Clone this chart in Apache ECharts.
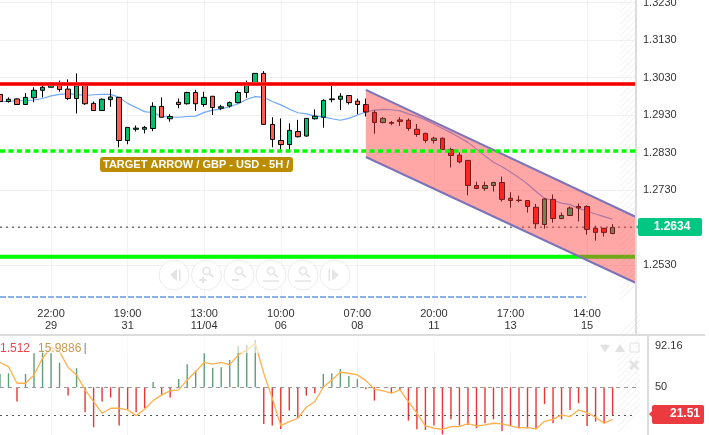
<!DOCTYPE html>
<html>
<head>
<meta charset="utf-8">
<style>html,body{margin:0;padding:0;background:#fff}#chart{width:709px;height:435px}</style>
<script src="https://cdn.jsdelivr.net/npm/echarts@6/dist/echarts.min.js"></script>
</head>
<body>
<div id="chart"></div>
<script>
// open, close, low, high
var candleData = [
  [1.2985,1.2966,1.2961,1.2989],[1.2966,1.2972,1.2963,1.2977],[1.2973,1.2958,1.2957,1.2974],[1.2958,1.2977,1.2957,1.2988],
  [1.2976,1.2996,1.2964,1.3004],[1.2996,1.3004,1.2977,1.3013],[1.3004,1.3010,1.3004,1.3016],[1.3016,1.2998,1.2992,1.3022],
  [1.2999,1.2974,1.2970,1.3025],[1.2974,1.3008,1.2934,1.3041],[1.3009,1.2960,1.2957,1.3016],[1.2961,1.2942,1.2941,1.2966],
  [1.2942,1.2972,1.2941,1.2974],[1.2971,1.2978,1.2952,1.2999],[1.2977,1.2862,1.2844,1.2977],[1.2862,1.2897,1.2852,1.2897],
  [1.2892,1.2895,1.2886,1.2902],[1.2892,1.2897,1.2881,1.2901],[1.2894,1.2953,1.2887,1.2964],[1.2953,1.2924,1.2924,1.2977],
  [1.2920,1.2926,1.2912,1.2932],[1.2964,1.2958,1.2948,1.2974],[1.2960,1.2990,1.2958,1.2992],[1.2990,1.2960,1.2941,1.2997],
  [1.2958,1.2977,1.2952,1.2992],[1.2980,1.2950,1.2930,1.2980],[1.2948,1.2952,1.2943,1.2957],[1.2954,1.2963,1.2950,1.2966],
  [1.2963,1.2990,1.2961,1.2995],[1.2990,1.3010,1.2976,1.3022],[1.3014,1.3041,1.3014,1.3041],[1.3041,1.2905,1.2905,1.3047],
  [1.2905,1.2865,1.2844,1.2924],[1.2862,1.2851,1.2838,1.2921],[1.2851,1.2889,1.2832,1.2908],[1.2886,1.2872,1.2870,1.2917],
  [1.2874,1.2921,1.2872,1.2921],[1.2920,1.2927,1.2918,1.2945],[1.2924,1.2969,1.2896,1.2972],[1.2971,1.2973,1.2964,1.3007],
  [1.2972,1.2980,1.2943,1.2988],[1.2982,1.2963,1.2958,1.2982],[1.2967,1.2958,1.2932,1.2974],[1.2958,1.2938,1.2926,1.2974],
  [1.2937,1.2910,1.2880,1.2943],[1.2910,1.2921,1.2908,1.2924],[1.2910,1.2908,1.2903,1.2914],[1.2917,1.2913,1.2901,1.2924],
  [1.2916,1.2894,1.2888,1.2921],[1.2892,1.2878,1.2872,1.2906],[1.2881,1.2862,1.2856,1.2883],[1.2862,1.2868,1.2854,1.2872],
  [1.2868,1.2838,1.2837,1.2870],[1.2838,1.2822,1.2790,1.2843],[1.2823,1.2805,1.2801,1.2830],[1.2809,1.2742,1.2716,1.2809],
  [1.2742,1.2734,1.2734,1.2752],[1.2734,1.2742,1.2728,1.2752],[1.2742,1.2750,1.2726,1.2752],[1.2750,1.2705,1.2699,1.2766],
  [1.2708,1.2702,1.2683,1.2724],[1.2703,1.2702,1.2697,1.2715],[1.2702,1.2686,1.2670,1.2702],[1.2684,1.2640,1.2627,1.2693],
  [1.2638,1.2706,1.2627,1.2708],[1.2705,1.2654,1.2643,1.2718],[1.2654,1.2662,1.2652,1.2670],[1.2662,1.2682,1.2661,1.2686],
  [1.2686,1.2682,1.2646,1.2694],[1.2686,1.2625,1.2611,1.2689],[1.2628,1.2617,1.2595,1.2635],[1.2628,1.2617,1.2606,1.2628],
  [1.2614,1.2630,1.2612,1.2639]
];
var maValues = [
  1.2966,1.2966,1.2968,1.2968,1.2970,1.2974,1.2981,1.2985,1.2987,1.2985,1.2982,1.2984,1.2985,1.2985,1.2977,1.2961,
  1.2950,1.2939,1.2936,1.2927,1.2924,1.2924,1.2926,1.2927,1.2937,1.2943,1.2946,1.2952,1.2960,1.2972,1.2979,1.2977,
  1.2966,1.2957,1.2946,1.2936,1.2933,1.2927,1.2925,1.2920,1.2916,1.2921,1.2930,1.2938,1.2943,1.2945,1.2944,1.2941,
  1.2933,1.2926,1.2917,1.2906,1.2894,1.2883,1.2870,1.2857,1.2839,1.2821,1.2804,1.2792,1.2778,1.2763,1.2746,1.2726,
  1.2708,1.2702,1.2695,1.2691,1.2681,1.2674,1.2666,1.2659,1.2652
];
var oscBars = [
  63.6,64.3,35.4,63.6,84.7,88.1,84.7,75.2,41.5,69.4,24.5,9.2,35.4,39.5,10.9,27.6,24.5,28.6,55.4,41.5,39.5,58.5,73.5,67,
  84.7,70,70.4,77.9,92,93.2,98.3,12.6,10.9,7.5,26.2,18.4,41.5,43.9,63.6,64.3,68.7,61.6,58.5,48,36.4,50,43.9,47.3,16,
  7.1,6.5,10.9,2,17.3,10.9,11.6,8.2,13.3,17.3,5.4,10.5,8.2,8.2,7.1,33,13.3,17.3,26.9,33.7,10.5,15,13.3,21.51
];
var oscLine = [
  75.2,71.1,54.1,54.1,62.6,79.6,90.8,86.4,70.1,62.6,47.3,35.4,23.5,28.6,28.6,26.9,21.1,27.6,36.4,42.2,46.3,47.3,57.5,66,
  75.5,73.5,75.5,72.8,83,88.1,94.9,64.3,38.8,10.9,15,18.4,29.6,35.4,50,57.5,65.3,64.3,62.6,56.8,48,46.3,43.9,47.3,35.4,
  23.5,10.5,8.2,7.1,9.9,9.9,12.9,10.5,11.6,13.3,12.6,10.5,8.5,8.8,7.5,15.3,17.3,21.8,20.1,26.9,24.1,19.4,13.3,17.3
];
var tickIndexes = [6, 15, 24, 33, 42, 51, 60, 69];
var tickTimes = ['22:00', '19:00', '13:00', '10:00', '07:00', '20:00', '17:00', '14:00'];
var tickDates = ['29', '31', '11/04', '06', '08', '11', '13', '15'];
var priceTicks = [1.3230, 1.3130, 1.3030, 1.2930, 1.2830, 1.2730, 1.2630, 1.2530];
var oscTicks = [92.16, 50];
var channelX = [43, 74.75];
var channelUpper = [1.2997, 1.2658];
var channelLower = [1.2818, 1.2482];
var resistanceLevel = 1.3013;
var targetLevel = 1.2834;
var supportLevel = 1.2552;
var lastLevel = 1.2631;
var lowerDashLevel = 1.2445;
var lowerDashEnd = 68.9;
var lastPriceText = '1.2634';
var lastOscText = '21.51';
var legendTexts = ['1.512', '15.9886'];
var bannerText = 'TARGET ARROW / GBP - USD - 5H /';

var FONT = '"Liberation Sans", Arial, sans-serif';
var X_MAX = 74.75;
var BAND_COUNT = 75; // two empty bands after the last candle

function levelSeries(y, color, width, type, z, xEnd) {
  return {
    type: 'line', xAxisIndex: 1, yAxisIndex: 1, z: z, silent: true, symbol: 'none',
    lineStyle: { color: color, width: width, type: type },
    data: [[0, y], [xEnd || X_MAX, y]]
  };
}

function iconGroup() {
  var stroke = '#e4e4e4';
  var els = [];
  var cy = 275;
  var xs = [174, 206.5, 239, 271, 303, 335];
  xs.forEach(function (cx, i) {
    els.push({ type: 'circle', shape: { cx: cx, cy: cy, r: 15 }, style: { fill: '#fff', stroke: '#ececec', lineWidth: 1 } });
    if (i === 0) {
      els.push({ type: 'polygon', shape: { points: [[cx + 3, cy - 6], [cx + 3, cy + 6], [cx - 4, cy]] }, style: { fill: stroke } });
      els.push({ type: 'rect', shape: { x: cx + 5, y: cy - 6, width: 1.5, height: 12 }, style: { fill: stroke } });
    } else if (i === 5) {
      els.push({ type: 'polygon', shape: { points: [[cx - 3, cy - 6], [cx - 3, cy + 6], [cx + 4, cy]] }, style: { fill: stroke } });
      els.push({ type: 'rect', shape: { x: cx - 6.5, y: cy - 6, width: 1.5, height: 12 }, style: { fill: stroke } });
    } else {
      els.push({ type: 'circle', shape: { cx: cx, cy: cy - 4, r: 3.5 }, style: { fill: 'none', stroke: stroke, lineWidth: 1.5 } });
      els.push({ type: 'line', shape: { x1: cx + 3, y1: cy - 1, x2: cx + 7, y2: cy + 2 }, style: { stroke: stroke, lineWidth: 2 } });
      if (i === 1 || i === 2) {
        els.push({ type: 'line', shape: { x1: cx - 7, y1: cy + 5, x2: cx, y2: cy + 5 }, style: { stroke: stroke, lineWidth: 2 } });
      }
      if (i === 1) {
        els.push({ type: 'line', shape: { x1: cx - 3.5, y1: cy + 2, x2: cx - 3.5, y2: cy + 8 }, style: { stroke: stroke, lineWidth: 2 } });
      }
      if (i === 3 || i === 4) {
        els.push({ type: 'line', shape: { x1: cx - 8, y1: cy + 6, x2: cx + 8, y2: cy + 6 }, style: { stroke: stroke, lineWidth: 1.5 } });
      }
    }
  });
  return els;
}

function hatch(x0, x1, yTop, yBottom) {
  var els = [];
  var run = x1 - x0;
  for (var y = yTop - run; y + run <= yBottom; y += 6) {
    els.push({ type: 'line', z: 1, silent: true, shape: { x1: x0, y1: y + run, x2: x1, y2: y }, style: { stroke: '#f0f0f0', lineWidth: 1 } });
  }
  return els;
}

var graphics = [].concat(
  hatch(620, 635, 0, 302),
  hatch(618, 640, 336, 435),
  iconGroup().map(function (e) { e.z = 3; return e; }),
  [
    // fade strip above the oscillator
    { type: 'rect', z: 40, shape: { x: 0, y: 336, width: 636, height: 17 }, style: { fill: 'rgba(255,255,255,0.6)' } },
    // panel frames
    { type: 'rect', z: 50, shape: { x: 635, y: 0, width: 2, height: 335 }, style: { fill: '#dcdcdc' } },
    { type: 'rect', z: 50, shape: { x: 0, y: 334, width: 705, height: 2 }, style: { fill: '#dcdcdc' } },
    { type: 'rect', z: 50, shape: { x: 647, y: 335, width: 2, height: 100 }, style: { fill: '#dcdcdc' } },
    // last price tag
    { type: 'polygon', z: 60, shape: { points: [[641, 222], [641, 232], [636, 227]] }, style: { fill: '#00c781' } },
    { type: 'rect', z: 60, shape: { x: 638, y: 218, width: 64, height: 18, r: 2 }, style: { fill: '#00c781' } },
    { type: 'text', z: 61, style: { x: 672, y: 227, text: lastPriceText, fill: '#fff', font: 'bold 12px ' + FONT, align: 'center', verticalAlign: 'middle' } },
    // last oscillator tag
    { type: 'polygon', z: 60, shape: { points: [[654, 409], [654, 419], [649, 414]] }, style: { fill: '#ec3b40' } },
    { type: 'rect', z: 60, shape: { x: 652, y: 405, width: 52, height: 19, r: 2 }, style: { fill: '#ec3b40' } },
    { type: 'text', z: 61, style: { x: 700, y: 414, text: lastOscText, fill: '#fff', font: 'bold 12px ' + FONT, align: 'right', verticalAlign: 'middle' } },
    // banner
    { type: 'rect', z: 60, shape: { x: 100, y: 157, width: 193, height: 15, r: 3 }, style: { fill: '#bb8c00' } },
    { type: 'text', z: 61, style: { x: 103, y: 165, text: bannerText, fill: '#fff', font: 'bold 11px ' + FONT, verticalAlign: 'middle' } },
    // oscillator legend
    { type: 'text', z: 61, style: { x: 0, y: 349, text: legendTexts[0], fill: '#e8474a', font: '12px ' + FONT, verticalAlign: 'middle' } },
    { type: 'text', z: 61, style: { x: 38, y: 349, text: legendTexts[1], fill: '#c89a50', font: '12px ' + FONT, verticalAlign: 'middle' } },
    { type: 'rect', z: 61, shape: { x: 84.5, y: 343, width: 1.5, height: 11 }, style: { fill: '#aaa' } },
    // oscillator panel icons
    { type: 'polygon', z: 61, shape: { points: [[600, 345], [605, 344.5], [610, 345], [605, 352.5]] }, style: { fill: '#e2e2e2' } },
    { type: 'polygon', z: 61, shape: { points: [[615, 352], [620, 344], [625, 352]] }, style: { fill: '#e2e2e2' } },
    { type: 'rect', z: 61, shape: { x: 630, y: 343, width: 9, height: 9 }, style: { fill: 'none', stroke: '#e2e2e2', lineWidth: 1 } },
    { type: 'line', z: 61, shape: { x1: 630, y1: 361, x2: 638, y2: 369 }, style: { stroke: '#e2e2e2', lineWidth: 2.5 } },
    { type: 'line', z: 61, shape: { x1: 638, y1: 361, x2: 630, y2: 369 }, style: { stroke: '#e2e2e2', lineWidth: 2.5 } }
  ]
);

var chart = echarts.init(document.getElementById('chart'), null, { renderer: 'canvas' });

function tickLabel(v) {
  var i = tickIndexes.indexOf(v);
  return i < 0 ? '' : tickTimes[i] + '\n' + tickDates[i];
}

var bands = [];
for (var b = 0; b < BAND_COUNT; b++) bands.push(b);

// down candles under the pink channel need a stronger red to stay bright
var candleItems = candleData.map(function (d, i) {
  return i >= channelX[0] ? { value: d, itemStyle: { color0: '#ff1010' } } : d;
});

chart.setOption({
  animation: false,
  backgroundColor: '#fff',
  textStyle: { fontFamily: FONT },
  graphic: graphics,
  grid: [
    // the candles sit on a band axis, shifted so bar k lands at k * 8.508 px
    { left: -4.254, top: 0, width: 638.1, height: 302.5, outerBoundsMode: 'none' },
    { left: 0, top: 0, width: 636, height: 302.5, outerBoundsMode: 'none' },
    { left: 0, top: 336, width: 636, height: 99, outerBoundsMode: 'none' }
  ],
  xAxis: [
    { gridIndex: 0, type: 'category', data: bands, show: false },
    {
      gridIndex: 1, type: 'value', min: 0, max: X_MAX,
      axisLine: { show: false },
      axisTick: { show: true, length: 4, lineStyle: { color: '#f0f0f0' }, customValues: tickIndexes },
      splitLine: { show: true, lineStyle: { color: '#f2f2f2' } },
      axisLabel: {
        customValues: tickIndexes, formatter: tickLabel, color: '#333', fontSize: 11, lineHeight: 12, margin: 5,
        fontFamily: FONT, hideOverlap: false
      }
    },
    {
      gridIndex: 2, type: 'value', min: 0, max: X_MAX,
      axisLine: { show: false }, axisLabel: { show: false },
      axisTick: { show: false, customValues: tickIndexes },
      splitLine: { show: true, lineStyle: { color: '#f4f4f4' } }
    }
  ],
  yAxis: [
    { gridIndex: 0, type: 'value', min: 1.2430, max: 1.32367, show: false },
    {
      gridIndex: 1, type: 'value', min: 1.2430, max: 1.32367, position: 'right',
      axisLine: { show: false },
      axisTick: { show: false, customValues: priceTicks },
      splitLine: { show: true, lineStyle: { color: '#f0f0f0' } },
      axisLabel: {
        customValues: priceTicks, color: '#333', fontSize: 11, margin: 7, fontFamily: FONT, padding: [0, 0, 3, 0],
        formatter: function (v) { return v.toFixed(4); }
      }
    },
    {
      gridIndex: 2, type: 'value', min: 1.3, max: 102.3, position: 'right', offset: 12,
      axisLine: { show: false },
      axisTick: { show: false, customValues: oscTicks },
      splitLine: { show: false },
      axisLabel: { customValues: oscTicks, color: '#333', fontSize: 11, margin: 7, fontFamily: FONT }
    }
  ],
  series: [
    {
      type: 'line', xAxisIndex: 1, yAxisIndex: 1, z: 3, symbol: 'none', silent: true,
      lineStyle: { color: '#6ea8f7', width: 1.2 },
      data: maValues.map(function (v, i) { return [i, v]; })
    },
    {
      type: 'candlestick', xAxisIndex: 0, yAxisIndex: 0, z: 4, barWidth: 5, silent: true,
      itemStyle: { color: '#00bd70', color0: '#ff5c54', borderColor: '#000', borderColor0: '#000', borderWidth: 1 },
      data: candleItems
    },
    levelSeries(supportLevel, '#00ff00', 4, 'solid', 5),
    levelSeries(lastLevel, '#333', 1, [2, 4], 5),
    levelSeries(lowerDashLevel, '#8fb2ea', 2, [6, 2], 5, lowerDashEnd),
    {
      type: 'custom', xAxisIndex: 1, yAxisIndex: 1, z: 6, silent: true,
      encode: { x: [0, 1], y: [2, 3, 4, 5] },
      data: [[channelX[0], channelX[1], channelUpper[0], channelUpper[1], channelLower[0], channelLower[1]]],
      renderItem: function (params, api) {
        var a = api.coord([api.value(0), api.value(2)]);
        var b = api.coord([api.value(1), api.value(3)]);
        var c = api.coord([api.value(1), api.value(5)]);
        var d = api.coord([api.value(0), api.value(4)]);
        return {
          type: 'group',
          children: [
            { type: 'polygon', shape: { points: [a, b, c, d] }, style: { fill: 'rgba(255,60,60,0.45)' } },
            { type: 'polyline', shape: { points: [a, b] }, style: { fill: 'none', stroke: '#7b74b8', lineWidth: 2 } },
            { type: 'polyline', shape: { points: [d, c] }, style: { fill: 'none', stroke: '#7b74b8', lineWidth: 2 } }
          ]
        };
      }
    },
    levelSeries(resistanceLevel, '#ff3030', 4, 'solid', 7),
    levelSeries(resistanceLevel, '#f00000', 2, 'solid', 7),
    levelSeries(targetLevel, '#00ff00', 3.5, [5, 3.4], 7),
    {
      type: 'custom', xAxisIndex: 2, yAxisIndex: 2, z: 4, silent: true,
      encode: { x: 0, y: 1 },
      data: oscBars.map(function (v, i) { return [i, v]; }),
      renderItem: function (params, api) {
        var v = api.value(1);
        var p0 = api.coord([api.value(0), 50]);
        var p1 = api.coord([api.value(0), v]);
        return {
          type: 'line',
          shape: { x1: p0[0], y1: p0[1], x2: p1[0], y2: p1[1] },
          style: { stroke: v >= 50 ? '#5f9e78' : '#e83535', lineWidth: 1.4 }
        };
      }
    },
    {
      type: 'line', xAxisIndex: 2, yAxisIndex: 2, z: 3, symbol: 'none', silent: true, lineStyle: { width: 0 },
      data: [[0, 50], [X_MAX, 50]],
      markLine: {
        silent: true, symbol: 'none', label: { show: false },
        data: [
          { yAxis: 50, lineStyle: { color: '#999', type: [4, 4], width: 1 } },
          { yAxis: 21.51, lineStyle: { color: '#555', type: [2, 4], width: 1 } }
        ]
      }
    },
    {
      type: 'line', xAxisIndex: 2, yAxisIndex: 2, z: 5, symbol: 'none', silent: true,
      lineStyle: { color: '#ffb14d', width: 1.3 },
      data: oscLine.map(function (v, i) { return [i, v]; })
    }
  ]
});
</script>
</body>
</html>
